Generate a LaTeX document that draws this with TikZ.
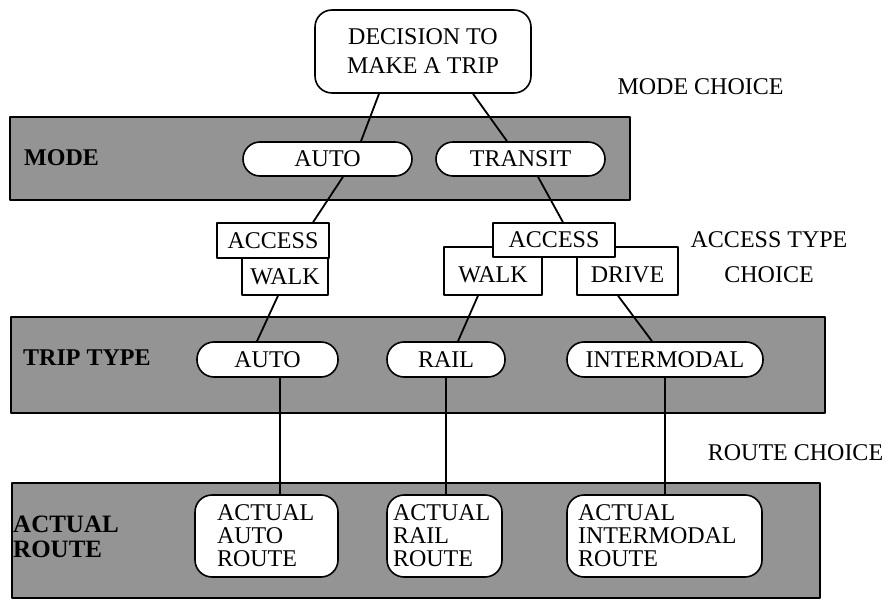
\documentclass[tikz,border=0pt]{standalone}
\usepackage{fontspec}
\setmainfont{Liberation Serif}
\begin{document}
\begin{tikzpicture}[x=1pt,y=-1pt,line join=round,
  every node/.style={font=\fontsize{24}{29}\selectfont,inner sep=0pt},
  oneline/.style={text height=15.7pt,text depth=0pt},
  band/.style={draw=black,line width=2pt,fill=black!42},
  pill/.style={oneline,draw,line width=1.6pt,fill=white,rounded corners=17pt,minimum height=35pt},
  sqbox/.style={oneline,draw,line width=1.4pt,fill=white},
  rbox/.style={draw,line width=1.6pt,fill=white,rounded corners=17pt},
  rtext/.style={align=left,font=\fontsize{24}{23}\selectfont,minimum height=82pt},
  tag/.style={anchor=west,font=\fontsize{24}{25}\selectfont\bfseries},
  link/.style={line width=1.8pt},
  vlink/.style={line width=1.2pt}]
\useasboundingbox (0,0) rectangle (893,601);

% shaded level bands
\draw[band] (10,117) rectangle (630,200);
\draw[band] (11,317) rectangle (825,413);
\draw[band] (12,483) rectangle (820,598);

% band titles
\node[tag] (lmode) at (24,158) {MODE};
\node[tag] (ltrip) at (23,358) {TRIP TYPE};
\node[tag,align=left,font=\fontsize{25}{25}\selectfont\bfseries] (lroute) at (13,537) {ACTUAL\\ROUTE};

% decision and mode
\node[rbox,align=center,minimum width=216pt,minimum height=83pt] (dec) at (423,51.5) {DECISION TO\\MAKE A TRIP};
\node[pill,minimum width=169pt,minimum height=34pt] (mauto) at (327.5,159) {AUTO};
\node[pill,minimum width=169pt,minimum height=34pt] (mtrans) at (520.5,159) {TRANSIT};

% access types
\node[sqbox,minimum width=86pt,minimum height=37pt] (walkL) at (285,276.5) {WALK};
\node[sqbox,minimum width=112pt,minimum height=35pt] (accL) at (273,240.5) {ACCESS};
\node[sqbox,minimum width=98pt,minimum height=48pt,text height=24pt] (walkR) at (493,271) {WALK};
\node[sqbox,minimum width=101pt,minimum height=48pt,text height=24pt] (drive) at (627.5,271) {DRIVE};
\node[sqbox,minimum width=122pt,minimum height=34pt] (accR) at (554,240) {ACCESS};

% trip types
\node[pill,minimum width=141pt] (tauto) at (267.5,359.5) {AUTO};
\node[pill,minimum width=118pt] (trail) at (446,359.5) {RAIL};
\node[pill,minimum width=196pt] (tinter) at (665,359.5) {INTERMODAL};

% actual routes
\node[rbox,rtext,text width=99pt,inner xsep=22pt] (rauto) at (266.5,536) {ACTUAL\\AUTO\\ROUTE};
\node[rbox,rtext,text width=103pt,inner xsep=6pt] (rrail) at (444.5,536) {ACTUAL\\RAIL\\ROUTE};
\node[rbox,rtext,text width=173pt,inner xsep=11pt] (rinter) at (664.5,536) {ACTUAL\\INTERMODAL\\ROUTE};

% choice annotations
\node[oneline] (nmode) at (700.5,87) {MODE CHOICE};
\node[align=center,font=\fontsize{24}{35}\selectfont] (nacc) at (769,257.5) {ACCESS TYPE\\CHOICE};
\node[oneline] (nroute) at (795.5,453) {ROUTE CHOICE};

% connectors
\draw[link] ([xshift=-44pt]dec.south) -- ([xshift=33.5pt]mauto.north);
\draw[link] ([xshift=50pt]dec.south) -- ([xshift=-13.5pt]mtrans.north);
\draw[link] ([xshift=15.5pt]mauto.south) -- ([xshift=40pt]accL.north);
\draw[link] ([xshift=17.5pt]mtrans.south) -- ([xshift=9pt]accR.north);
\draw[link] ([xshift=-7pt]walkL.south) -- ([xshift=-10.5pt]tauto.north);
\draw[link] ([xshift=-15pt]walkR.south) -- ([xshift=12pt]trail.north);
\draw[link] ([xshift=-9.5pt]drive.south) -- ([xshift=-13pt]tinter.north);
\draw[vlink] ([xshift=12.5pt]tauto.south) -- ([xshift=12.5pt]tauto.south |- rauto.north);
\draw[vlink] (trail.south) -- (trail.south |- rrail.north);
\draw[vlink] (tinter.south) -- (tinter.south |- rinter.north);
\end{tikzpicture}
\end{document}
